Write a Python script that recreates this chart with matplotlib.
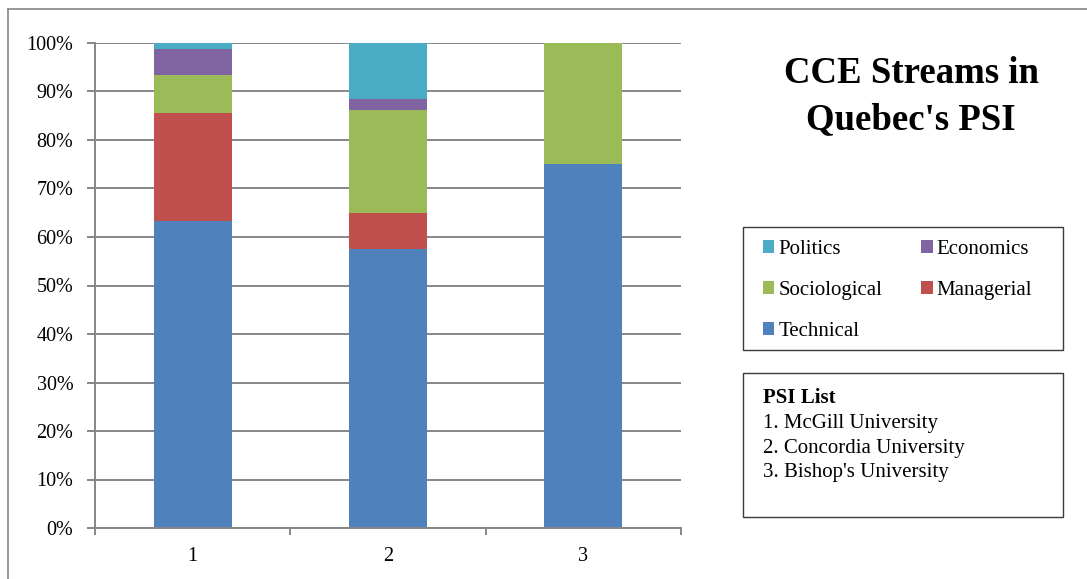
import matplotlib.pyplot as plt
from matplotlib.patches import Patch, Rectangle
from matplotlib.lines import Line2D
from matplotlib.ticker import FixedLocator, PercentFormatter

# Share of each stream (%) per institution
categories = ["1", "2", "3"]
technical = [63.2, 57.6, 75.0]
managerial = [22.4, 7.3, 0.0]
sociological = [7.9, 21.3, 25.0]
economics = [5.2, 2.3, 0.0]
politics = [1.3, 11.5, 0.0]

series_names = ["Technical", "Managerial", "Sociological", "Economics", "Politics"]
series_values = [technical, managerial, sociological, economics, politics]
series_colors = ["#4F81BD", "#C0504D", "#9BBB59", "#8064A2", "#4BACC6"]

title_text = "CCE Streams in\nQuebec's PSI"
psi_heading = "PSI List"
psi_list = ["1. McGill University", "2. Concordia University", "3. Bishop's University"]

plt.rcParams["font.family"] = ["Liberation Serif", "DejaVu Serif"]

W, H = 1087, 579
fig = plt.figure(figsize=(W / 100, H / 100), dpi=100)


def fx(px):
    return px / W


def fy(py):
    return 1 - py / H


grid_gray = "#868686"

ax = fig.add_axes([fx(95), fy(528), fx(681) - fx(95), fy(43) - fy(528)])
x = list(range(len(categories)))
bottom = [0.0] * len(categories)
for name, vals, col in zip(series_names, series_values, series_colors):
    ax.bar(x, vals, width=0.4, bottom=bottom, color=col, label=name, zorder=3)
    bottom = [b + v for b, v in zip(bottom, vals)]

ax.set_xlim(-0.5, len(categories) - 0.5)
ax.set_ylim(0, 100)
ax.yaxis.set_major_locator(FixedLocator(range(0, 101, 10)))
ax.yaxis.set_major_formatter(PercentFormatter(decimals=0))
ax.grid(axis="y", color=grid_gray, linewidth=1.4, zorder=0)

# category boundaries get tick marks, labels sit in the middle
ax.set_xticks([i - 0.5 for i in range(len(categories) + 1)])
ax.set_xticklabels([])
ax.set_xticks(x, minor=True)
ax.set_xticklabels(categories, minor=True)
ax.tick_params(axis="x", which="major", length=5, width=1.4, color=grid_gray, direction="out")
ax.tick_params(axis="x", which="minor", length=0, pad=14, labelsize=14.5)
ax.tick_params(axis="y", length=6, width=1.4, color=grid_gray, direction="out", pad=9.5, labelsize=14.5)

for side in ("top", "right"):
    ax.spines[side].set_visible(False)
for side in ("left", "bottom"):
    ax.spines[side].set_color(grid_gray)
    ax.spines[side].set_linewidth(1.4)
ax.spines["bottom"].set_zorder(4)

# chart area border (top and left edges)
fig.add_artist(Line2D([fx(8), 1.0], [fy(9), fy(9)], color=grid_gray, linewidth=1.2))
fig.add_artist(Line2D([fx(8), fx(8)], [fy(9), 0.0], color=grid_gray, linewidth=1.2))

# title
fig.text(fx(911), fy(56), title_text, ha="center", va="top", fontsize=26.5,
         fontweight="bold", linespacing=1.4)

# legend
handles = {n: Patch(facecolor=c, label=n) for n, c in zip(series_names, series_colors)}
order = ["Politics", "Sociological", "Technical", "Economics", "Managerial"]
fig.add_artist(Rectangle((fx(743), fy(350)), fx(1063) - fx(743), fy(227) - fy(350),
                         facecolor="white", edgecolor="#3a3a3a", linewidth=1.0,
                         transform=fig.transFigure, zorder=1))
fig.legend([handles[n] for n in order], order, loc="upper left",
           bbox_to_anchor=(fx(763), fy(240)), ncol=2, frameon=False,
           fontsize=15, handlelength=0.55, handleheight=0.55, handletextpad=0.2,
           columnspacing=1.85, labelspacing=1.05, borderpad=0, borderaxespad=0)

# institution list
fig.add_artist(Rectangle((fx(743), fy(517)), fx(1063) - fx(743), fy(373) - fy(517),
                         facecolor="white", edgecolor="#3a3a3a", linewidth=1.0,
                         transform=fig.transFigure, zorder=1))
fig.text(fx(763), fy(403), psi_heading, fontsize=15, fontweight="bold", va="baseline")
for i, line in enumerate(psi_list):
    fig.text(fx(763), fy(428 + 24.5 * i), line, fontsize=15, va="baseline")

fig.savefig("out.png", dpi=100)
